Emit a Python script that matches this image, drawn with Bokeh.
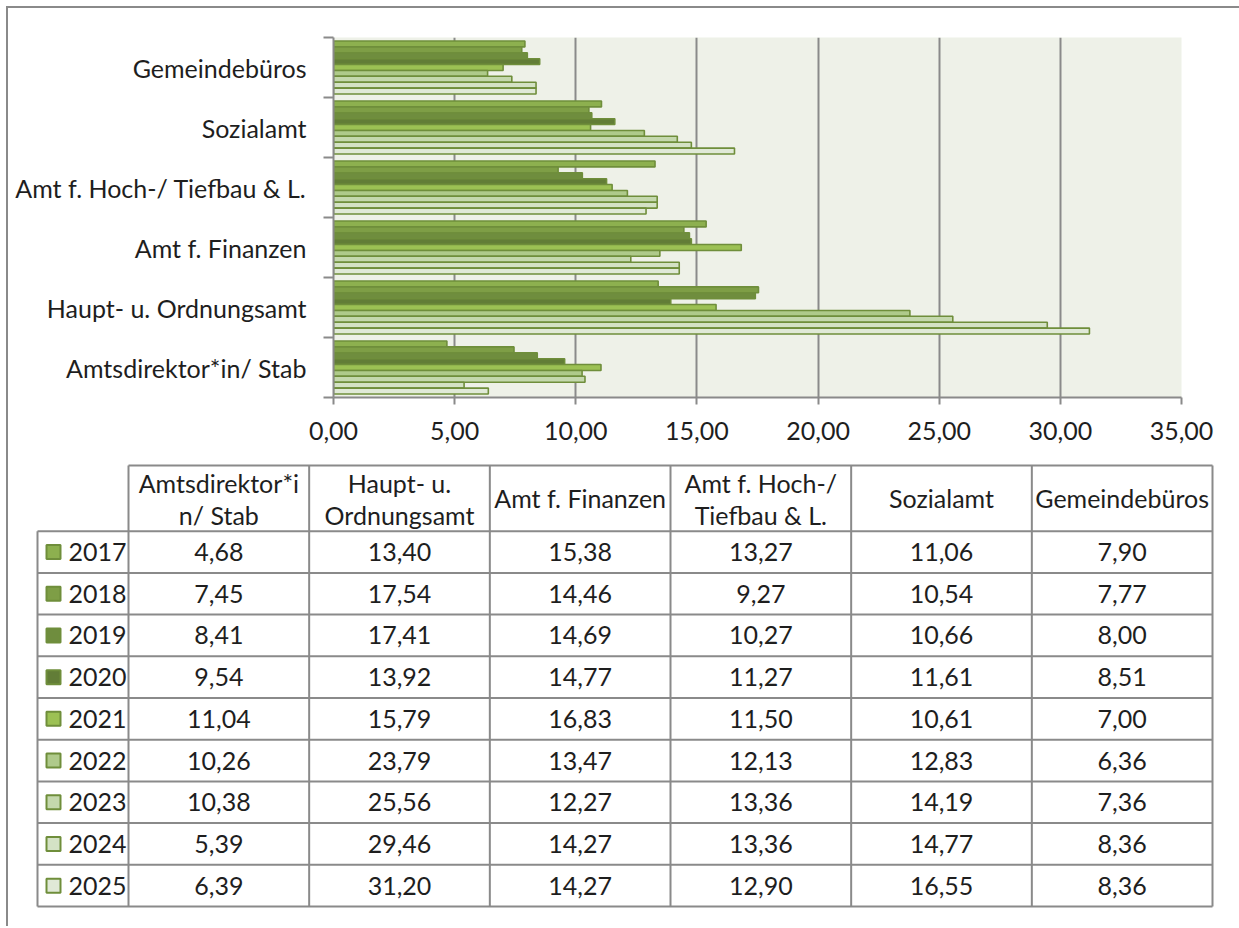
from bokeh.plotting import figure
from bokeh.layouts import column
from bokeh.models import Range1d, FixedTicker, ColumnDataSource
from bokeh.core.properties import value
from bokeh.embed import file_html
from bokeh.resources import INLINE

# ---------------- data ----------------
categories = ["Amtsdirektor*in/ Stab", "Haupt- u. Ordnungsamt", "Amt f. Finanzen",
              "Amt f. Hoch-/ Tiefbau & L.", "Sozialamt", "Gemeindebüros"]
header_line1 = ["Amtsdirektor*i", "Haupt- u.", "Amt f. Finanzen", "Amt f. Hoch-/", "Sozialamt", "Gemeindebüros"]
header_line2 = ["n/ Stab", "Ordnungsamt", "", "Tiefbau & L.", "", ""]
years = ["2017", "2018", "2019", "2020", "2021", "2022", "2023", "2024", "2025"]

v2017 = [4.68, 13.40, 15.38, 13.27, 11.06, 7.90]
v2018 = [7.45, 17.54, 14.46, 9.27, 10.54, 7.77]
v2019 = [8.41, 17.41, 14.69, 10.27, 10.66, 8.00]
v2020 = [9.54, 13.92, 14.77, 11.27, 11.61, 8.51]
v2021 = [11.04, 15.79, 16.83, 11.50, 10.61, 7.00]
v2022 = [10.26, 23.79, 13.47, 12.13, 12.83, 6.36]
v2023 = [10.38, 25.56, 12.27, 13.36, 14.19, 7.36]
v2024 = [5.39, 29.46, 14.27, 13.36, 14.77, 8.36]
v2025 = [6.39, 31.20, 14.27, 12.90, 16.55, 8.36]
series = [v2017, v2018, v2019, v2020, v2021, v2022, v2023, v2024, v2025]

x_ticks = [0, 5, 10, 15, 20, 25, 30, 35]

# ---------------- styles ----------------
colors = ["#8db04f", "#7e9e46", "#6f8d3e", "#627d37", "#9cc154",
          "#afca8b", "#c4d8ad", "#d4e2c5", "#e0e9d7"]
outline = "#6f8e3b"
gray = "#8a8a8a"
FONT = "Lato"
FS = "25px"
TXT = "#1e1e1e"

def fmt(v):
    return f"{v:.2f}".replace(".", ",")

# ---------------- chart ----------------
W = 1231
p1 = figure(width=W, height=449, output_backend="svg", toolbar_location=None,
            x_range=Range1d(0, 35), y_range=Range1d(0, 6),
            min_border_left=325, min_border_right=58, min_border_top=29, min_border_bottom=60)
p1.background_fill_color = "#eef1e8"
p1.border_fill_color = "white"
p1.outline_line_color = None

n = len(series)
bh = 0.098
for j, vals in enumerate(series):
    ys = [i + 0.5 + ((n - 1) / 2 - j) * bh for i in range(len(categories))]
    src = ColumnDataSource(dict(y=ys, right=vals))
    p1.hbar(y="y", left=0, right="right", height=bh, source=src,
            fill_color=colors[j], line_color=outline, line_width=1.6)

p1.xaxis.ticker = FixedTicker(ticks=x_ticks, minor_ticks=[])
p1.xaxis.major_label_overrides = {t: fmt(t) for t in x_ticks}
p1.xaxis.axis_line_color = gray
p1.xaxis.axis_line_width = 2
p1.xaxis.major_tick_line_color = gray
p1.xaxis.major_tick_line_width = 2
p1.xaxis.major_tick_out = 7
p1.xaxis.major_tick_in = 0
p1.xaxis.minor_tick_line_color = None
p1.xaxis.major_label_standoff = 17
p1.xaxis.major_label_text_font = FONT
p1.xaxis.major_label_text_font_size = FS
p1.xaxis.major_label_text_color = TXT

centers = [i + 0.5 for i in range(len(categories))]
p1.yaxis.ticker = FixedTicker(ticks=centers, minor_ticks=list(range(len(categories) + 1)))
p1.yaxis.major_label_overrides = {c: lab for c, lab in zip(centers, categories)}
p1.yaxis.axis_line_color = gray
p1.yaxis.axis_line_width = 2
p1.yaxis.major_tick_line_color = None
p1.yaxis.major_tick_out = 0
p1.yaxis.major_tick_in = 0
p1.yaxis.minor_tick_line_color = gray
p1.yaxis.minor_tick_line_width = 2
p1.yaxis.minor_tick_out = 10
p1.yaxis.minor_tick_in = 0
p1.yaxis.major_label_standoff = 17
p1.yaxis.major_label_text_font = FONT
p1.yaxis.major_label_text_font_size = FS
p1.yaxis.major_label_text_color = TXT

p1.xgrid.ticker = FixedTicker(ticks=x_ticks[1:])
p1.xgrid.grid_line_color = gray
p1.xgrid.grid_line_width = 2
p1.ygrid.grid_line_color = None

# ---------------- table ----------------
H2 = 469
p2 = figure(width=W, height=H2, output_backend="svg", toolbar_location=None,
            x_range=Range1d(0, W), y_range=Range1d(H2, 0),
            x_axis_location=None, y_axis_location=None,
            min_border=0)
p2.grid.visible = False
p2.outline_line_color = None
p2.background_fill_color = "white"
p2.border_fill_color = "white"

leg_left = 29
col0 = 120
ncol = len(categories)
colw = (1204 - col0) / ncol
head_top = 8
row_top = 73.7
rowh = 41.7
bottom = row_top + rowh * len(years)

x0s, y0s, x1s, y1s = [], [], [], []
x0s.append(col0); y0s.append(head_top); x1s.append(col0 + colw * ncol); y1s.append(head_top)
for k in range(len(years) + 1):
    yy = row_top + k * rowh
    x0s.append(leg_left); y0s.append(yy); x1s.append(col0 + colw * ncol); y1s.append(yy)
x0s.append(leg_left); y0s.append(row_top); x1s.append(leg_left); y1s.append(bottom)
for c in range(ncol + 1):
    xx = col0 + c * colw
    x0s.append(xx); y0s.append(head_top); x1s.append(xx); y1s.append(bottom)
p2.segment(x0=x0s, y0=y0s, x1=x1s, y1=y1s, line_color=gray, line_width=2)

hx, hy, ht = [], [], []
for c in range(ncol):
    cx = col0 + (c + 0.5) * colw
    if header_line2[c]:
        hx += [cx, cx]; hy += [head_top + 17, head_top + 49]
        ht += [header_line1[c], header_line2[c]]
    else:
        hx.append(cx); hy.append((head_top + row_top) / 2); ht.append(header_line1[c])
p2.text(x=hx, y=hy, text=ht, text_align="center", text_baseline="middle",
        text_font=value(FONT), text_font_size=FS, text_color=TXT)

vx, vy, vt = [], [], []
for j, vals in enumerate(series):
    cy = row_top + (j + 0.5) * rowh
    for c, v in enumerate(vals):
        vx.append(col0 + (c + 0.5) * colw); vy.append(cy); vt.append(fmt(v))
p2.text(x=vx, y=vy, text=vt, text_align="center", text_baseline="middle",
        text_font=value(FONT), text_font_size=FS, text_color=TXT)

ly = [row_top + (j + 0.5) * rowh for j in range(len(years))]
p2.rect(x=[leg_left + 16] * len(years), y=ly, width=14, height=14,
        fill_color=colors, line_color=outline, line_width=2)
p2.text(x=[leg_left + 31] * len(years), y=ly, text=years, text_align="left",
        text_baseline="middle", text_font=value(FONT), text_font_size=FS, text_color=TXT)

root1 = column(p1, styles={"margin-left": "6px", "margin-top": "6px",
                           "border-left": "2px solid #8a8a8a", "border-top": "2px solid #8a8a8a"})
root2 = column(p2, styles={"margin-left": "6px", "border-left": "2px solid #8a8a8a"})

open("out.html", "w").write(file_html([root1, root2], INLINE))
